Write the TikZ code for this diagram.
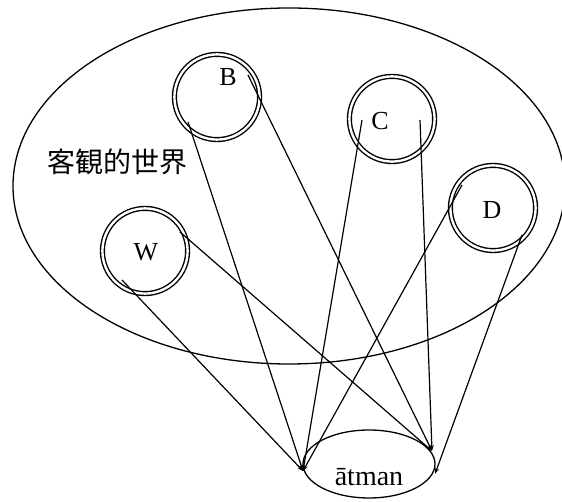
\documentclass[tikz,border=0pt]{standalone}
\usepackage{fontspec}
\setmainfont{Liberation Serif}
\newfontfamily\cjkfont{Noto Sans CJK JP}
\usetikzlibrary{shapes.geometric,arrows.meta}
\tikzset{
  ring/.style={circle, draw, double, double distance=1.2pt, line width=0.7pt,
    minimum size=42.6pt, inner sep=0pt},
  oval/.style={ellipse, draw, line width=0.65pt, inner sep=0pt},
  letter/.style={font=\fontsize{13}{13}\selectfont, inner sep=0pt},
  ray/.style={line width=0.6pt, -{Stealth[length=3pt,width=2pt]}},
}
\begin{document}
\begin{tikzpicture}[x=0.5pt,y=0.5pt]
\clip (0,0) rectangle (562,502);
\fill[white] (0,0) rectangle (562,502);
% outer world ellipse
\node[oval, minimum width=276pt, minimum height=178pt] (world) at (289,316) {};
\node[font=\cjkfont\fontsize{14}{14}\selectfont, inner sep=0pt] (worldlabel) at (117,340) {客観的世界};
% double circles
\node[ring] (B) at (217,405) {};
\node[ring] (C) at (392,383) {};
\node[ring] (D) at (493,294) {};
\node[ring] (W) at (145,251) {};
\node[letter] (Bl) at (228,425) {B};
\node[letter] (Cl) at (380,381) {C};
\node[letter] (Dl) at (492,292) {D};
\node[letter] (Wl) at (146,250) {W};
% atman
\node[oval, minimum width=66pt, minimum height=34pt] (atmanE) at (369,38) {};
\node[font=\fontsize{14}{14}\selectfont, inner sep=0pt] (atman) at (369,25) {ātman};
% start and end points
\coordinate (B1) at (248,427);
\coordinate (B2) at (188,380);
\coordinate (C1) at (362,382);
\coordinate (C2) at (420,382);
\coordinate (D1) at (462,317);
\coordinate (D2) at (522,267);
\coordinate (W1) at (180,270);
\coordinate (W2) at (122,222);
\coordinate (L) at (303,31);
\coordinate (R) at (432,51);
\coordinate (RE) at (435,28);
% rays
\draw[ray] (B2) -- (L);
\draw[ray] (B1) -- (R);
\draw[ray] (C1) -- (L);
\draw[ray] (C2) -- (R);
\draw[ray] (D1) -- (L);
\draw[ray] (D2) -- (RE);
\draw[ray] (W1) -- (R);
\draw[ray] (W2) -- (L);
\end{tikzpicture}
\end{document}
